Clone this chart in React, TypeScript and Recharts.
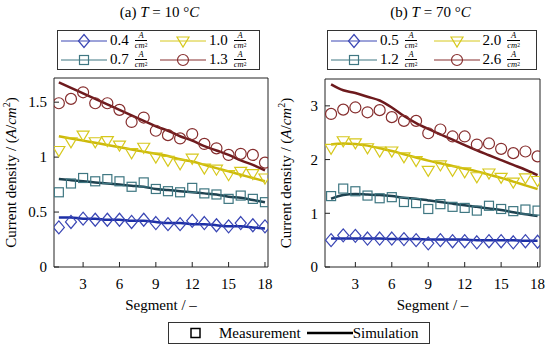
import React from "react";
import { ComposedChart, Line, Scatter, XAxis, YAxis } from "recharts";

const FONT = "Liberation Serif, DejaVu Serif, serif";

const segments = [1, 2, 3, 4, 5, 6, 7, 8, 9, 10, 11, 12, 13, 14, 15, 16, 17, 18];
const xTicks = [3, 6, 9, 12, 15, 18];

// (a) T = 10 °C
const a04Meas = [0.36, 0.41, 0.44, 0.43, 0.43, 0.43, 0.41, 0.43, 0.4, 0.39, 0.39, 0.42, 0.4, 0.38, 0.37, 0.4, 0.38, 0.37];
const a04Sim = [0.45, 0.45, 0.44, 0.44, 0.43, 0.43, 0.42, 0.42, 0.41, 0.4, 0.4, 0.39, 0.39, 0.38, 0.37, 0.37, 0.36, 0.35];
const a07Meas = [0.68, 0.76, 0.81, 0.78, 0.8, 0.78, 0.73, 0.77, 0.71, 0.69, 0.68, 0.72, 0.67, 0.66, 0.62, 0.65, 0.62, 0.59];
const a07Sim = [0.8, 0.79, 0.78, 0.77, 0.76, 0.75, 0.74, 0.73, 0.71, 0.7, 0.69, 0.68, 0.67, 0.66, 0.64, 0.63, 0.61, 0.59];
const a10Meas = [1.06, 1.14, 1.2, 1.14, 1.15, 1.11, 1.04, 1.09, 1.0, 0.97, 0.94, 0.99, 0.9, 0.89, 0.84, 0.87, 0.85, 0.81];
const a10Sim = [1.19, 1.17, 1.15, 1.13, 1.11, 1.09, 1.07, 1.05, 1.03, 1.01, 0.98, 0.96, 0.93, 0.9, 0.87, 0.84, 0.81, 0.78];
const a13Meas = [1.49, 1.53, 1.59, 1.49, 1.49, 1.43, 1.32, 1.36, 1.24, 1.2, 1.17, 1.21, 1.12, 1.08, 1.02, 1.03, 1.02, 0.95];
const a13Sim = [1.68, 1.63, 1.58, 1.53, 1.48, 1.43, 1.38, 1.33, 1.28, 1.24, 1.19, 1.15, 1.1, 1.06, 1.02, 0.97, 0.93, 0.88];

// (b) T = 70 °C
const b05Meas = [0.5, 0.59, 0.58, 0.53, 0.53, 0.53, 0.52, 0.5, 0.44, 0.5, 0.48, 0.48, 0.46, 0.48, 0.48, 0.46, 0.48, 0.47];
const b05Sim = [0.53, 0.53, 0.53, 0.53, 0.53, 0.52, 0.52, 0.52, 0.51, 0.51, 0.51, 0.51, 0.5, 0.5, 0.5, 0.5, 0.49, 0.49];
const b12Meas = [1.32, 1.46, 1.41, 1.33, 1.28, 1.3, 1.21, 1.19, 1.08, 1.17, 1.12, 1.1, 1.05, 1.14, 1.08, 1.04, 1.07, 1.05];
const b12Sim = [1.27, 1.34, 1.36, 1.35, 1.34, 1.32, 1.29, 1.27, 1.24, 1.21, 1.18, 1.15, 1.12, 1.09, 1.06, 1.02, 0.98, 0.95];
const b20Meas = [2.21, 2.35, 2.31, 2.22, 2.16, 2.16, 2.05, 1.98, 1.8, 1.9, 1.8, 1.77, 1.68, 1.75, 1.67, 1.58, 1.66, 1.61];
const b20Sim = [2.28, 2.3, 2.29, 2.26, 2.21, 2.16, 2.1, 2.04, 1.98, 1.93, 1.88, 1.83, 1.78, 1.72, 1.66, 1.59, 1.52, 1.45];
const b26Meas = [2.85, 2.93, 2.97, 2.88, 2.92, 2.79, 2.72, 2.72, 2.49, 2.56, 2.43, 2.43, 2.28, 2.3, 2.2, 2.12, 2.15, 2.06];
const b26Sim = [3.4, 3.29, 3.24, 3.17, 3.1, 2.97, 2.81, 2.68, 2.57, 2.47, 2.37, 2.27, 2.17, 2.08, 1.99, 1.9, 1.81, 1.71];

const aLabels = ["0.4", "0.7", "1.0", "1.3"];
const bLabels = ["0.5", "1.2", "2.0", "2.6"];

type Kind = "diamond" | "square" | "triangle" | "circle";
const kinds: Kind[] = ["diamond", "square", "triangle", "circle"];
const markColors = ["#3a46b4", "#3f7782", "#d6c81c", "#862e2e"];
const lineColors = ["#1c2fa6", "#1e4250", "#cdb90a", "#6d1a1d"];

function marker(kind: Kind, cx: number, cy: number, color: string) {
  if (kind === "diamond")
    return <path d={`M${cx},${cy - 6.5}L${cx + 5.5},${cy}L${cx},${cy + 6.5}L${cx - 5.5},${cy}Z`} fill="none" stroke={color} strokeWidth={1.2} />;
  if (kind === "square")
    return <rect x={cx - 4.5} y={cy - 4.5} width={9} height={9} fill="none" stroke={color} strokeWidth={1.2} />;
  if (kind === "triangle")
    return <path d={`M${cx - 6},${cy - 4}L${cx + 6},${cy - 4}L${cx},${cy + 6}Z`} fill="none" stroke={color} strokeWidth={1.2} />;
  return <circle cx={cx} cy={cy} r={5.5} fill="none" stroke={color} strokeWidth={1.2} />;
}

const buildRows = (meas: number[][], sim: number[][]) =>
  segments.map((s, i) => {
    const row: any = { seg: s };
    meas.forEach((m, k) => (row["m" + k] = m[i]));
    sim.forEach((m, k) => (row["s" + k] = m[i]));
    return row;
  });

const aRows = buildRows([a04Meas, a07Meas, a10Meas, a13Meas], [a04Sim, a07Sim, a10Sim, a13Sim]);
const bRows = buildRows([b05Meas, b12Meas, b20Meas, b26Meas], [b05Sim, b12Sim, b20Sim, b26Sim]);

const Frac = () => (
  <span style={{ display: "inline-flex", flexDirection: "column", alignItems: "center", fontStyle: "italic", fontSize: 8.5, lineHeight: "9px", marginLeft: 6 }}>
    <span>A</span>
    <span style={{ borderTop: "0.8px solid #000" }}>
      cm<span style={{ fontSize: 5.5, verticalAlign: "top", fontStyle: "normal" }}>2</span>
    </span>
  </span>
);

const LegendEntry = ({ k, label }: { k: number; label: string }) => (
  <div style={{ display: "flex", alignItems: "center", height: 19 }}>
    <svg width={46} height={16}>
      <line x1={0} x2={46} y1={8} y2={8} stroke={markColors[k]} strokeWidth={1} />
      {marker(kinds[k], 23, 8, markColors[k])}
    </svg>
    <span style={{ marginLeft: 3, fontSize: 15 }}>{label}</span>
    <Frac />
  </div>
);

const TopLegend = ({ left, width, labels }: { left: number; width: number; labels: string[] }) => (
  <div
    style={{
      position: "absolute", left, top: 30, width, height: 40, boxSizing: "border-box",
      border: "1px solid #333", display: "grid", gridTemplateColumns: "1fr 1fr",
      padding: "0 0 0 3px", fontFamily: FONT,
    }}
  >
    <LegendEntry k={0} label={labels[0]} />
    <LegendEntry k={2} label={labels[2]} />
    <LegendEntry k={1} label={labels[1]} />
    <LegendEntry k={3} label={labels[3]} />
  </div>
);

const Title = ({ left, tag, temp }: { left: number; tag: string; temp: string }) => (
  <div style={{ position: "absolute", left, top: 4, width: 275, textAlign: "center", fontFamily: FONT, fontSize: 15 }}>
    ({tag}) <i>T</i> = {temp} °<i>C</i>
  </div>
);

const YLabel = (props: any) => {
  const { viewBox } = props;
  const cy = viewBox.y + viewBox.height / 2;
  const x = viewBox.x + 16;
  return (
    <text x={x} y={cy} transform={`rotate(-90 ${x} ${cy})`} textAnchor="middle" style={{ fontFamily: FONT }} fontSize={15} fill="#000">
      Current density / (<tspan fontStyle="italic">A</tspan>/<tspan fontStyle="italic">cm</tspan>
      <tspan dy={-6} fontSize={10}>2</tspan>
      <tspan dy={6}>)</tspan>
    </text>
  );
};

const XLabel = (props: any) => {
  const { viewBox } = props;
  return (
    <text x={viewBox.x + viewBox.width / 2} y={viewBox.y + 43} textAnchor="middle" style={{ fontFamily: FONT }} fontSize={15} fill="#000">
      Segment / –
    </text>
  );
};

const Panel = ({ rows, yMax, yTicks, xDomain, yAxisW, marginRight, marginTop }: any) => {
  const tick = { fill: "#000", fontSize: 15, style: { fontFamily: FONT } };
  return (
    <ComposedChart width={275} height={346} data={rows} margin={{ top: marginTop, right: marginRight, bottom: 49, left: 0 }}>
      <XAxis dataKey="seg" type="number" domain={xDomain} ticks={xTicks} allowDataOverflow height={30}
        tickSize={-5} tickMargin={16} tick={tick} stroke="#222" label={<XLabel />} />
      <XAxis xAxisId="top" dataKey="seg" type="number" domain={xDomain} ticks={xTicks} allowDataOverflow orientation="top"
        height={1} tickSize={-5} tick={false} stroke="#222" />
      <YAxis type="number" domain={[0, yMax]} ticks={yTicks} allowDataOverflow width={yAxisW}
        tickSize={-5} tickMargin={12} tick={tick} stroke="#222" label={<YLabel />} />
      <YAxis yAxisId="r" type="number" domain={[0, yMax]} ticks={yTicks} allowDataOverflow orientation="right"
        width={1} tickSize={-5} tick={false} stroke="#222" />
      {[0, 1, 2, 3].map((k) => (
        <Line key={"s" + k} dataKey={"s" + k} type="monotone" stroke={lineColors[k]} strokeWidth={2.5} dot={false} isAnimationActive={false} />
      ))}
      {[0, 1, 2, 3].map((k) => (
        <Scatter key={"m" + k} dataKey={"m" + k} isAnimationActive={false}
          shape={(p: any) => marker(kinds[k], p.cx, p.cy, markColors[k])} />
      ))}
    </ComposedChart>
  );
};

export default function App() {
  return (
    <div style={{ position: "absolute", left: 0, top: 0, width: 550, height: 346, background: "#fff", overflow: "hidden" }}>
      <div style={{ position: "absolute", left: 0, top: 0 }}>
        <Panel rows={aRows} yMax={1.72} yTicks={[0, 0.5, 1, 1.5]} xDomain={[0.6, 18.25]} yAxisW={54} marginRight={6} marginTop={77} />
      </div>
      <div style={{ position: "absolute", left: 275, top: 0 }}>
        <Panel rows={bRows} yMax={3.5} yTicks={[0, 1, 2, 3]} xDomain={[0.5, 18.2]} yAxisW={50} marginRight={9} marginTop={78} />
      </div>
      <Title left={22} tag="a" temp="10" />
      <Title left={293} tag="b" temp="70" />
      <TopLegend left={57} width={203} labels={aLabels} />
      <TopLegend left={327} width={210} labels={bLabels} />
      <div
        style={{
          position: "absolute", left: 168, top: 322, width: 262, height: 22, boxSizing: "border-box",
          border: "1px solid #333", display: "flex", alignItems: "center", fontFamily: FONT, fontSize: 15,
        }}
      >
        <svg width={50} height={20}>
          <rect x={22} y={5.5} width={9} height={9} fill="none" stroke="#000" strokeWidth={1.5} />
        </svg>
        <span>Measurement</span>
        <svg width={50} height={20} style={{ marginLeft: 2 }}>
          <line x1={4} x2={50} y1={10} y2={10} stroke="#000" strokeWidth={2.5} />
        </svg>
        <span>Simulation</span>
      </div>
    </div>
  );
}
